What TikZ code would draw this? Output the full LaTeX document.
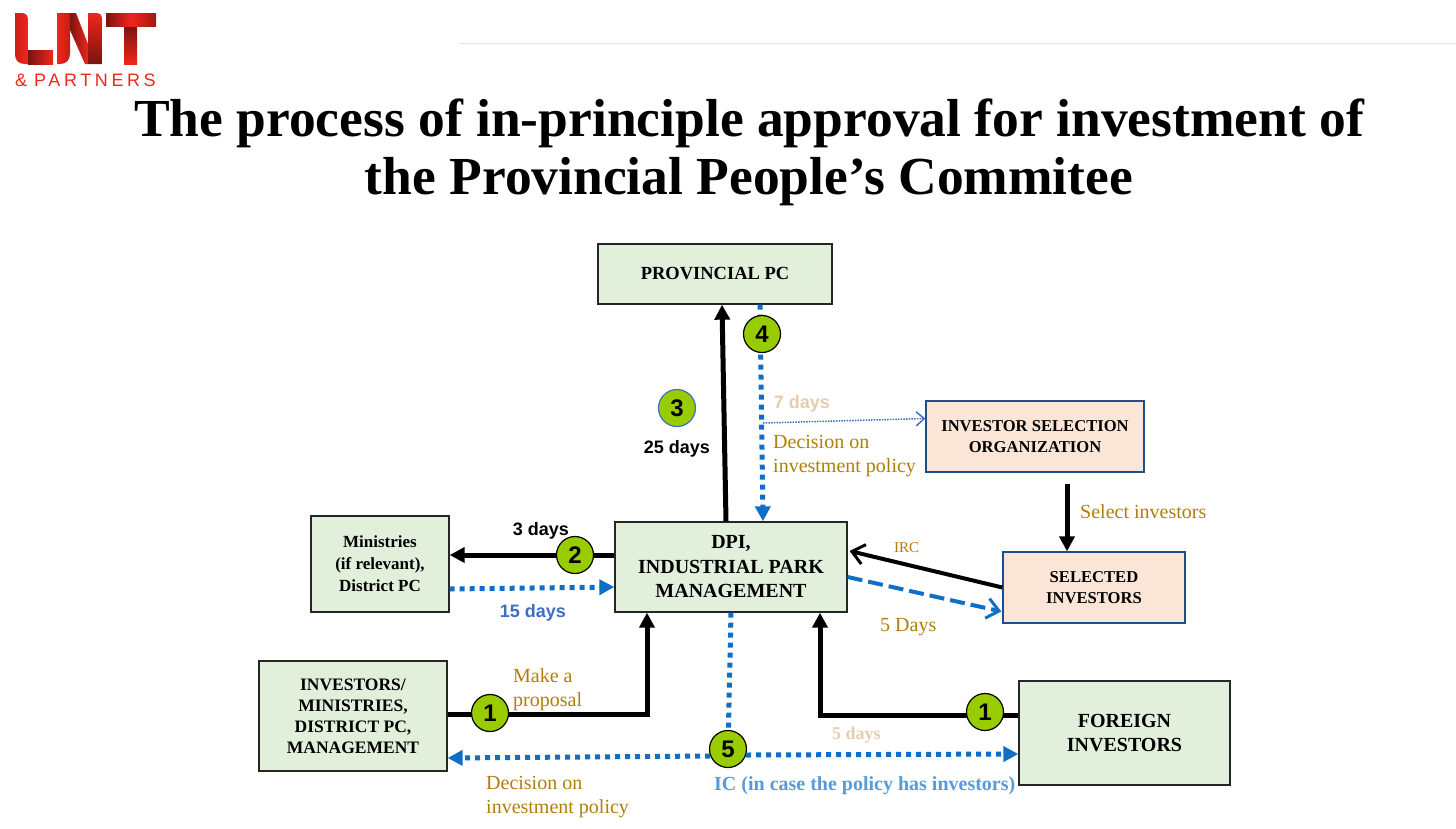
\documentclass[tikz,border=0pt]{standalone}
\usepackage{fontspec}
\setmainfont{Liberation Serif}
\setsansfont{Liberation Sans}
\usepackage{xcolor}
\usetikzlibrary{positioning, arrows.meta, calc}
\definecolor{BoxGreen}{HTML}{E2EFDA}
\definecolor{BoxPeach}{HTML}{FBE5D6}
\definecolor{EdgeNavy}{HTML}{1F4E8C}
\definecolor{LineBlue}{HTML}{0F6FC6}
\definecolor{BadgeGreen}{HTML}{99CC00}
\definecolor{Ochre}{HTML}{B07F0A}
\definecolor{Tan}{HTML}{E6CDAE}
\definecolor{DayBlue}{HTML}{3F6FC4}
\definecolor{IcBlue}{HTML}{5B9BD5}
\definecolor{LogoRed}{HTML}{F0261C}
\definecolor{LogoDark}{HTML}{7A1410}
\definecolor{RuleGray}{HTML}{E4E4E4}
\tikzset{
  box/.style={draw=black!85, fill=BoxGreen, line width=1.3pt, align=center,
              font=\fontsize{16.6}{21}\selectfont\bfseries, inner sep=0pt},
  peach/.style={box, draw=EdgeNavy, fill=BoxPeach},
  badge/.style={circle, draw=black, fill=BadgeGreen, line width=1.2pt, minimum size=37pt,
                inner sep=0pt, font=\fontsize{24}{24}\selectfont\sffamily\bfseries},
  arr/.style={-{Triangle[length=15pt,width=15pt]}, line width=5pt, black},
  oarr/.style={-{Straight Barb[length=12pt,width=20pt,line width=3pt]}, line width=4pt, black},
  dotarr/.style={-{Triangle[length=15pt,width=15pt]}, line width=5pt, LineBlue,
                 dash pattern=on 5pt off 5pt},
  lbl/.style={font=\fontsize{20}{24.5}\selectfont, text=Ochre, align=left, inner sep=0pt},
  day/.style={font=\fontsize{18}{18}\selectfont\sffamily\bfseries, inner sep=0pt},
}
\begin{document}
\begin{tikzpicture}[x=1pt,y=-1pt]
  \useasboundingbox (0,0) rectangle (1456,828);
  \fill[white] (0,0) rectangle (1456,828);
  % logo and rule
  \draw[RuleGray, line width=1pt] (460,43.5) -- (1456,43.5);
  \shade[left color=LogoRed!85!black, right color=LogoRed]
    (15,13) -- (22,13) .. controls (26,13) and (28,16) .. (28,20) -- (28,64) -- (25,64)
    .. controls (18,64) and (15,60) .. (15,54) -- cycle;
  \shade[left color=LogoDark, right color=LogoRed] (28,50) -- (53,50) -- (53,64) -- (28,64) -- cycle;
  \shade[left color=LogoRed, right color=LogoRed!80!black]
    (57,13) -- (70,13) -- (70,54) .. controls (70,60) and (66,64) .. (60,64) -- (57,64) -- cycle;
  \shade[left color=LogoDark, right color=LogoRed] (70,13) -- (76,13) -- (88,44) -- (88,64) -- (85,64) -- (70,30) -- cycle;
  \shade[top color=LogoRed, bottom color=LogoDark] (88,13) -- (97,13) .. controls (100,13) and (102,15) .. (102,18) -- (102,64) -- (88,64) -- cycle;
  \shade[top color=LogoDark, bottom color=LogoRed]
    (124,26) -- (137,26) -- (137,64) -- (124,64) -- cycle;
  \shade[left color=LogoDark, right color=LogoDark!70!LogoRed, middle color=LogoRed]
    (106,13) -- (156,13) -- (156,26) -- (106,26) -- cycle;
  \node[anchor=west, inner sep=0pt, text=LogoRed, font=\fontsize{18}{18}\selectfont\sffamily] (partners)
    at (15,80) {\&\hspace{7pt}\addfontfeature{LetterSpace=20}PARTNERS};
  % title
  \node[align=center, inner sep=0pt, font=\fontsize{53.5}{58}\selectfont\bfseries] (title) at (749,152)
    {The process of in-principle approval for investment of\\the Provincial People’s Commitee};
  % boxes
  \node[box, minimum width=234pt, minimum height=60pt, font=\fontsize{18.5}{21}\selectfont\bfseries] (pc) at (715,274) {PROVINCIAL PC};
  \node[peach, minimum width=218pt, minimum height=71pt] (org) at (1035,436.5) {INVESTOR SELECTION\\ORGANIZATION};
  \node[peach, minimum width=182pt, minimum height=71pt] (sel) at (1094,587.5) {SELECTED\\INVESTORS};
  \node[box, minimum width=232pt, minimum height=90pt, font=\fontsize{20}{24.5}\selectfont\bfseries] (dpi) at (731,567)
    {DPI,\\INDUSTRIAL PARK\\MANAGEMENT};
  \node[box, minimum width=138pt, minimum height=96pt, font=\fontsize{17}{22}\selectfont\bfseries] (min) at (380,564)
    {Ministries\\(if relevant),\\District PC};
  \node[box, minimum width=188pt, minimum height=110pt, font=\fontsize{17.5}{21}\selectfont\bfseries] (inv) at (353,716)
    {INVESTORS/\\MINISTRIES,\\DISTRICT PC,\\MANAGEMENT};
  \node[box, minimum width=211pt, minimum height=104pt, font=\fontsize{20}{24}\selectfont\bfseries] (for) at (1124.5,733)
    {FOREIGN\\INVESTORS};
  \node[badge] (five) at (728,749) {5};
  % connectors
  \draw[arr] ([xshift=-5pt]dpi.north) -- ([xshift=7pt]pc.south);
  \draw[dotarr] ([xshift=45pt]pc.south) -- ([xshift=32pt]dpi.north);
  \coordinate (fork) at (763,423);
  \draw[-{Straight Barb[length=8pt,width=14pt]}, DayBlue, line width=1.5pt, dash pattern=on 1.5pt off 1.2pt]
    (fork) -- ([yshift=18pt]org.west);
  \draw[arr] ([xshift=32pt,yshift=-11pt]org.south) -- ([xshift=-27pt]sel.north);
  \draw[oarr] (sel.west) -- ([xshift=2pt,yshift=16pt]dpi.east);
  \draw[-{Straight Barb[length=12pt,width=20pt,line width=3pt]}, LineBlue, line width=4pt, dash pattern=on 15pt off 6pt]
    ([yshift=-10pt]dpi.east) -- ([xshift=-1pt,yshift=-24pt]sel.west);
  \draw[arr] ([yshift=12pt]dpi.west) -- ([yshift=9pt]min.east);
  \draw[dotarr] ([yshift=-25pt]min.east) -- ([yshift=-20pt]dpi.west);
  \draw[arr] ([yshift=2pt]inv.east) -| ([xshift=-84pt]dpi.south);
  \draw[arr] ([yshift=18pt]for.west) -| ([xshift=89pt]dpi.south);
  \draw[LineBlue, line width=5pt, dash pattern=on 5pt off 5pt] (dpi.south) -- (five);
  \draw[dotarr] ([xshift=-18pt,yshift=-7pt]five.center) -- ([yshift=-42pt]inv.east);
  \draw[dotarr] ([xshift=18pt,yshift=-6pt]five.center) -- ([yshift=-21pt]for.west);
  % badges
  \node[badge] (one) at (490,713) {1};
  \node[badge] (onef) at (985,712) {1};
  \node[badge] (two) at (575,555) {2};
  \node[badge, draw=DayBlue] (three) at (677,408) {3};
  \node[badge] (four) at (762,334) {4};
  % labels
  \node[day] (d25) at (677,449) {25 days};
  \node[day] (d3) at (541,531) {3 days};
  \node[day, text=DayBlue] (d15) at (533,613) {15 days};
  \node[day, text=Tan] (d7) at (802,404) {7 days};
  \node[lbl, anchor=north west] (dec) at (773,435) {Decision on\\investment policy};
  \node[lbl, anchor=west] (pick) at (1080,512) {Select investors};
  \node[lbl, anchor=west, font=\fontsize{15}{15}\selectfont] (irc) at (894,548) {IRC};
  \node[lbl, anchor=west] (d5) at (880,627) {5 Days};
  \node[lbl, anchor=north west] (make) at (513,668) {Make a\\proposal};
  \node[lbl, anchor=west, text=Tan, font=\fontsize{18}{18}\selectfont\bfseries] (d5b) at (832,735) {5 days};
  \node[lbl, anchor=north west] (dec2) at (486,776) {Decision on\\investment policy};
  \node[lbl, anchor=west, text=IcBlue, font=\fontsize{20}{20}\selectfont\bfseries] (ic) at (714,786)
    {IC (in case the policy has investors)};
\end{tikzpicture}
\end{document}
